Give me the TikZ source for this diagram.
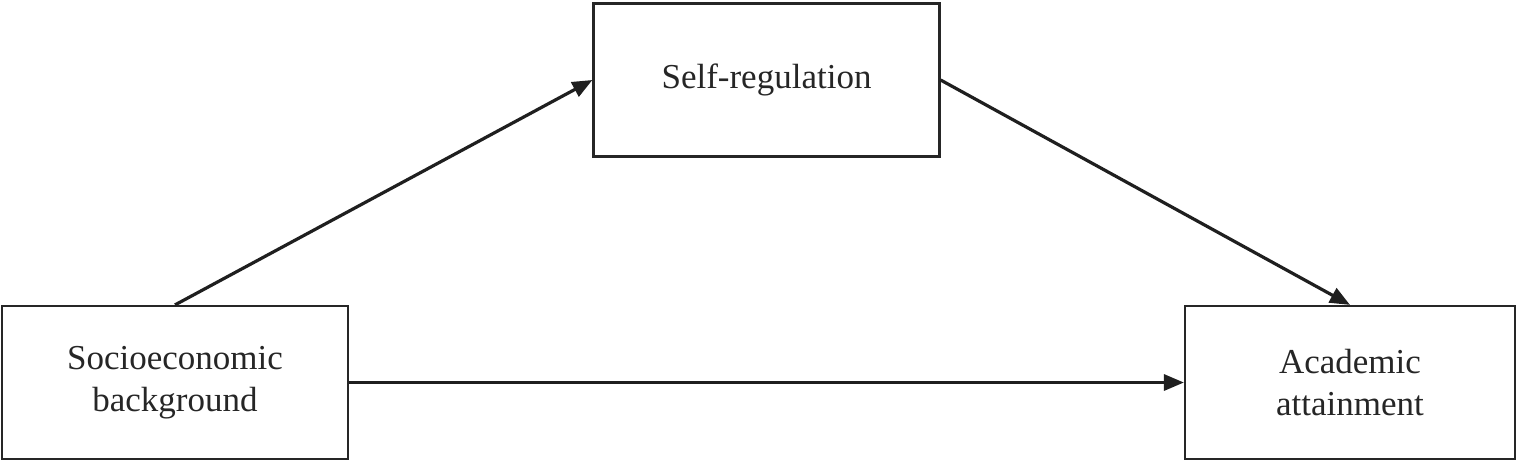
\documentclass[tikz,border=0pt]{standalone}
\usepackage{fontspec}
\setmainfont{Liberation Serif}
\usetikzlibrary{arrows.meta}
\begin{document}
\begin{tikzpicture}[x=1pt,y=-1pt,
  box/.style={draw=black!85,line width=2.2pt,minimum width=#1,minimum height=153pt,inner sep=0pt,align=center,font=\fontsize{35}{42}\selectfont,text=black!85},
  arr/.style={draw=black!88,line width=3.2pt,-{Triangle[length=20pt,width=16pt]}}]
\useasboundingbox (0,0) rectangle (1525,471);
\node[box=346pt] (self) at (766.5,80) {Self-regulation};
\node[box=346pt] (soc) at (175,382.5) {Socioeconomic\\background};
\node[box=330pt] (acad) at (1350,382.5) {Academic\\attainment};
\draw[arr] (soc.north) -- (self.west);
\draw[arr] (self.east) -- (acad.north);
\draw[arr] (soc.east) -- (acad.west);
\end{tikzpicture}
\end{document}
